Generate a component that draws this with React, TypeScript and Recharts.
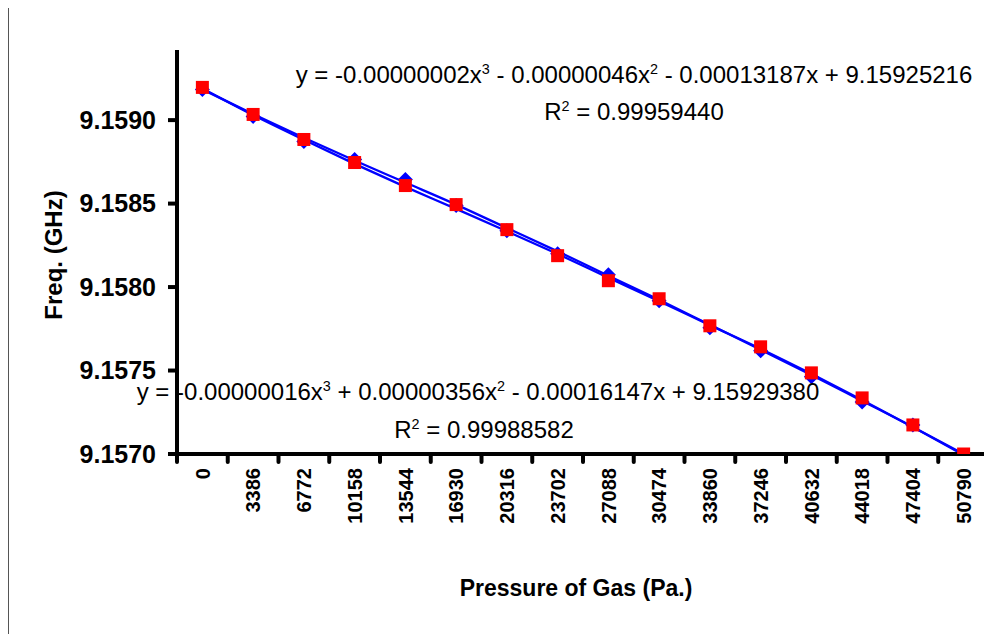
import React from 'react';
import { ComposedChart, Line, XAxis, YAxis } from 'recharts';

const categories = ['0', '3386', '6772', '10158', '13544', '16930', '20316', '23702', '27088', '30474', '33860', '37246', '40632', '44018', '47404', '50790'];
const diamondValues = [9.159184, 9.159022, 9.158872, 9.158764, 9.158644, 9.158488, 9.158338, 9.1582, 9.158074, 9.157918, 9.157756, 9.157618, 9.157462, 9.157312, 9.157174, 9.156988];
const squareValues = [9.159196, 9.159034, 9.158884, 9.158746, 9.158608, 9.158494, 9.158344, 9.158188, 9.158038, 9.15793, 9.157768, 9.157642, 9.157486, 9.157336, 9.157174, 9.157];
const trendA = [9.159184, 9.159036, 9.158894, 9.158758, 9.158626, 9.158494, 9.158354, 9.158214, 9.158068, 9.157924, 9.157774, 9.157624, 9.157474, 9.157318, 9.157162, 9.157];
const trendB = [9.15919, 9.15903, 9.158882, 9.158738, 9.1586, 9.158468, 9.158334, 9.158198, 9.158056, 9.157916, 9.157772, 9.15763, 9.15748, 9.157324, 9.157162, 9.156994];
const yTicks = [9.157, 9.1575, 9.158, 9.1585, 9.159];

const data = categories.map((c, i) => ({
  cat: c,
  d: diamondValues[i],
  s: squareValues[i],
  ta: trendA[i],
  tb: trendB[i],
}));

const W = 984;
const H = 626;
const M = { top: 42, right: 3, left: 89, bottom: 70 };
const Y_W = 80;
const X_H = 110;
const plotW = W - M.left - Y_W - M.right;
const axisY = H - M.bottom - X_H;
const bw = plotW / categories.length;
const FONT = "'Liberation Sans', Arial, sans-serif";

const Diamond = (p: any) => {
  const { cx, cy } = p;
  if (cx == null || cy == null) return null;
  const r = 7.5;
  return <polygon points={`${cx},${cy - r} ${cx + r},${cy} ${cx},${cy + r} ${cx - r},${cy}`} fill="#0000FF" />;
};

const Square = (p: any) => {
  const { cx, cy } = p;
  if (cx == null || cy == null) return null;
  const s = 6.5;
  return <rect x={cx - s} y={cy - s} width={2 * s} height={2 * s} fill="#FF0000" />;
};

const XTick = (p: any) => {
  const { x, payload, index } = p;
  const last = index === categories.length - 1;
  return (
    <g>
      <line x1={x - bw / 2} x2={x - bw / 2} y1={axisY} y2={axisY + 8} stroke="#000" strokeWidth={4} strokeLinecap="round" />
      {last && <line x1={x + bw / 2} x2={x + bw / 2} y1={axisY} y2={axisY + 8} stroke="#000" strokeWidth={4} strokeLinecap="round" />}
      <g transform={`translate(${x},${axisY + 14})`}>
        <text transform="rotate(-90)" textAnchor="end" dy="0.36em" fontFamily={FONT} fontWeight="bold" fontSize={20} fill="#000">
          {payload.value}
        </text>
      </g>
    </g>
  );
};

const sup = { fontSize: '60%', verticalAlign: 'super', lineHeight: 0 } as React.CSSProperties;

const textBox = (cx: number, cy: number): React.CSSProperties => ({
  position: 'absolute',
  left: cx - 500,
  top: cy - 13,
  width: 1000,
  height: 26,
  lineHeight: '26px',
  textAlign: 'center',
  fontFamily: FONT,
  fontSize: 24,
  color: '#000',
  whiteSpace: 'nowrap',
});

export default function App() {
  return (
    <div style={{ position: 'relative', width: W, height: H, background: '#fff' }}>
      <div
        style={{
          position: 'absolute',
          left: 0,
          top: -3,
          width: W,
          height: H + 10,
          borderTop: '1px solid #555',
          borderLeft: '1px solid #555',
          boxSizing: 'border-box',
        }}
      />
      <ComposedChart width={W} height={H} data={data} margin={M}>
        <XAxis
          dataKey="cat"
          interval={0}
          height={X_H}
          padding={{ left: bw / 2, right: bw / 2 }}
          tick={<XTick />}
          tickLine={false}
          axisLine={{ stroke: '#000', strokeWidth: 4 }}
        />
        <YAxis
          type="number"
          width={Y_W}
          domain={[9.157, 9.15942]}
          ticks={yTicks}
          allowDataOverflow
          tickFormatter={(v: number) => v.toFixed(4)}
          tickSize={9}
          tickMargin={12}
          tickLine={{ stroke: '#000', strokeWidth: 4 }}
          axisLine={{ stroke: '#000', strokeWidth: 4 }}
          tick={{ fill: '#000', fontSize: 25, fontWeight: 'bold', fontFamily: FONT }}
        />
        <Line dataKey="d" stroke="none" dot={<Diamond />} activeDot={false} isAnimationActive={false} />
        <Line dataKey="s" stroke="none" dot={<Square />} activeDot={false} isAnimationActive={false} />
        <Line dataKey="ta" type="monotone" stroke="#0000FF" strokeWidth={2.3} dot={false} activeDot={false} isAnimationActive={false} />
        <Line dataKey="tb" type="monotone" stroke="#0000FF" strokeWidth={2.3} dot={false} activeDot={false} isAnimationActive={false} />
      </ComposedChart>

      <div style={textBox(626, 67)}>
        y = -0.00000002x<span style={sup}>3</span> - 0.00000046x<span style={sup}>2</span> - 0.00013187x + 9.15925216
      </div>
      <div style={textBox(626, 104)}>
        R<span style={sup}>2</span> = 0.99959440
      </div>
      <div style={textBox(470, 384)}>
        y = -0.00000016x<span style={sup}>3</span> + 0.00000356x<span style={sup}>2</span> - 0.00016147x + 9.15929380
      </div>
      <div style={textBox(476, 422)}>
        R<span style={sup}>2</span> = 0.99988582
      </div>

      <div
        style={{
          position: 'absolute',
          left: 46,
          top: 247,
          transform: 'translate(-50%, -50%) rotate(-90deg)',
          fontFamily: FONT,
          fontWeight: 'bold',
          fontSize: 24,
          whiteSpace: 'nowrap',
          color: '#000',
        }}
      >
        Freq. (GHz)
      </div>
      <div
        style={{
          position: 'absolute',
          left: 568,
          top: 580,
          transform: 'translate(-50%, -50%)',
          fontFamily: FONT,
          fontWeight: 'bold',
          fontSize: 23,
          whiteSpace: 'nowrap',
          color: '#000',
        }}
      >
        Pressure of Gas (Pa.)
      </div>
    </div>
  );
}
